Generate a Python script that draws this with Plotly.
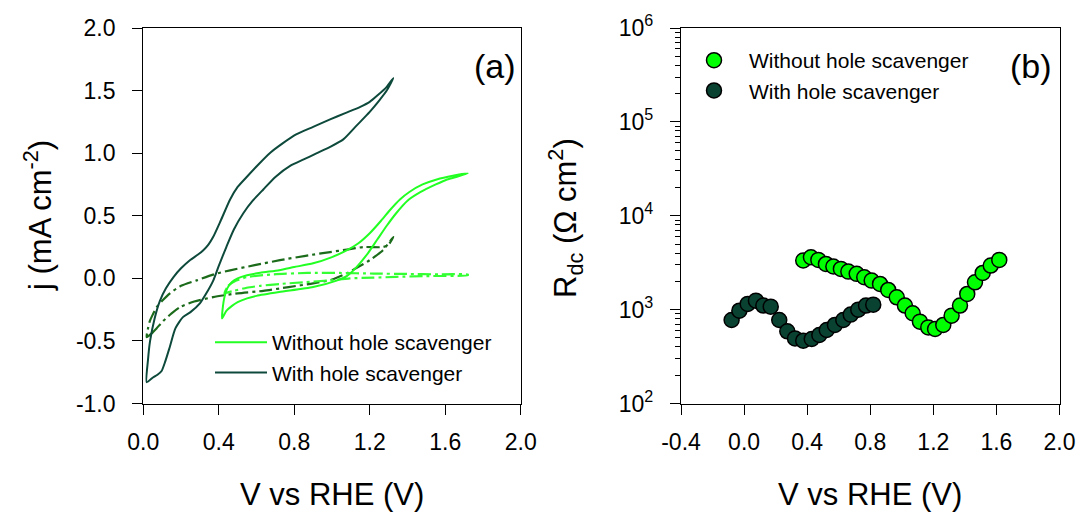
import plotly.graph_objects as go

# ---------- Panel (a): cyclic voltammetry ----------
# Without hole scavenger (light, solid)
v_wo = [0.417, 0.44, 0.47, 0.50, 0.55, 0.60, 0.72, 0.90, 1.02, 1.08, 1.13, 1.19, 1.24, 1.29, 1.34, 1.40, 1.47, 1.55, 1.61, 1.67, 1.72,
        1.64, 1.555, 1.48, 1.41, 1.36, 1.31, 1.26, 1.20, 1.14, 1.08, 1.00, 0.90, 0.80, 0.72, 0.62, 0.55, 0.50, 0.47, 0.445, 0.43, 0.42, 0.417]
j_wo = [-0.32, -0.26, -0.22, -0.19, -0.16, -0.14, -0.11, -0.07, -0.02, 0.02, 0.09, 0.20, 0.31, 0.42, 0.52, 0.62, 0.69, 0.75, 0.79, 0.815, 0.84,
        0.82, 0.79, 0.75, 0.69, 0.63, 0.55, 0.46, 0.36, 0.28, 0.225, 0.17, 0.12, 0.09, 0.065, 0.045, 0.025, 0.0, -0.03, -0.08, -0.15, -0.25, -0.32]

# With hole scavenger (dark, solid)
v_w = [0.018, 0.025, 0.036, 0.06, 0.088, 0.12, 0.16, 0.20, 0.247, 0.29, 0.318, 0.345, 0.37, 0.41, 0.46, 0.50, 0.548, 0.61, 0.67, 0.74,
       0.81, 0.90, 0.99, 1.07, 1.15, 1.20, 1.24, 1.29, 1.325,
       1.29, 1.25, 1.20, 1.13, 1.06, 0.99, 0.92, 0.85, 0.78, 0.70, 0.636, 0.58, 0.53, 0.48, 0.44, 0.40, 0.37, 0.33, 0.30, 0.25,
       0.21, 0.17, 0.14, 0.115, 0.097, 0.075, 0.053, 0.018]
j_w = [-0.83, -0.65, -0.50, -0.32, -0.18, -0.08, 0.01, 0.08, 0.145, 0.19, 0.225, 0.27, 0.33, 0.46, 0.63, 0.73, 0.81, 0.91, 1.00, 1.08,
       1.15, 1.21, 1.27, 1.32, 1.37, 1.41, 1.46, 1.53, 1.60,
       1.50, 1.42, 1.33, 1.22, 1.11, 1.05, 1.00, 0.95, 0.90, 0.81, 0.71, 0.62, 0.52, 0.39, 0.25, 0.10, -0.02, -0.13, -0.20, -0.27,
       -0.31, -0.40, -0.55, -0.67, -0.74, -0.77, -0.79, -0.83]

# Dark current, without hole scavenger (light, dash-dot)
v_wo_dark = [0.43, 0.45, 0.49, 0.55, 0.69, 0.87, 1.04, 1.22, 1.40, 1.57, 1.72,
             1.72, 1.50, 1.34, 1.22, 1.095, 0.99, 0.86, 0.724, 0.62, 0.548, 0.48, 0.44, 0.43]
j_wo_dark = [-0.12, -0.06, -0.02, 0.01, 0.032, 0.043, 0.043, 0.038, 0.035, 0.032, 0.03,
             0.025, 0.018, 0.012, 0.005, 0.0, -0.016, -0.03, -0.045, -0.06, -0.075, -0.10, -0.115, -0.12]

# Dark current, with hole scavenger (dark green, dash-dot)
v_w_dark = [0.018, 0.044, 0.07, 0.106, 0.15, 0.195, 0.27, 0.37, 0.50, 0.636, 0.77, 0.90, 1.0, 1.078, 1.15, 1.2, 1.27, 1.325,
            1.30, 1.27, 1.166, 1.08, 0.99, 0.86, 0.724, 0.59, 0.46, 0.37, 0.283, 0.2, 0.141, 0.10, 0.071, 0.05, 0.035, 0.025, 0.018]
j_w_dark = [-0.47, -0.44, -0.40, -0.34, -0.28, -0.23, -0.185, -0.15, -0.12, -0.10, -0.07, -0.04, -0.01, 0.04, 0.10, 0.145, 0.225, 0.33,
            0.27, 0.25, 0.25, 0.23, 0.21, 0.18, 0.145, 0.105, 0.064, 0.03, -0.016, -0.06, -0.12, -0.18, -0.23, -0.29, -0.34, -0.40, -0.47]

# ---------- Panel (b): Rdc ----------
v_rdc_wo = [0.375, 0.424, 0.471, 0.519, 0.566, 0.614, 0.661, 0.714, 0.762, 0.809, 0.862, 0.914, 0.968, 1.020, 1.069,
            1.115, 1.168, 1.211, 1.263, 1.316, 1.369, 1.415, 1.464, 1.513, 1.564, 1.618]
rdc_wo = [3334, 3614, 3388, 3069, 2877, 2716, 2541, 2404, 2213, 2037, 1879, 1622, 1352, 1104, 914,
          745, 647, 622, 687, 863, 1104, 1469, 1954, 2460, 2944, 3388]
v_rdc_w = [-0.079, -0.030, 0.023, 0.075, 0.122, 0.169, 0.223, 0.274, 0.323, 0.375, 0.429, 0.477, 0.524, 0.576,
           0.629, 0.676, 0.724, 0.773, 0.819]
rdc_w = [776, 975, 1151, 1247, 1104, 1076, 776, 587, 494, 467, 486, 537, 607, 687, 776, 885, 1000, 1104, 1130]

x_ticks_a = [0.0, 0.4, 0.8, 1.2, 1.6, 2.0]
x_ticktext_a = ["0.0", "0.4", "0.8", "1.2", "1.6", "2.0"]
y_ticks_a = [-1.0, -0.5, 0.0, 0.5, 1.0, 1.5, 2.0]
y_ticktext_a = ["-1.0", "-0.5", "0.0", "0.5", "1.0", "1.5", "2.0"]
x_ticks_b = [-0.4, 0.0, 0.4, 0.8, 1.2, 1.6, 2.0]
x_ticktext_b = ["-0.4", "0.0", "0.4", "0.8", "1.2", "1.6", "2.0"]
y_ticks_b = [1e2, 1e3, 1e4, 1e5, 1e6]
y_ticktext_b = ["10<sup>2</sup>", "10<sup>3</sup>", "10<sup>4</sup>", "10<sup>5</sup>", "10<sup>6</sup>"]
y_minor_b = [m * 10 ** e for e in range(2, 6) for m in range(2, 10)]

LIGHT = "#22FF22"
DARK = "#0E4A3C"
DD_DARK = "#1B6B1B"
DD_LIGHT = "#33FF33"
FONT = "Liberation Sans, Arial, sans-serif"

W, H = 1081, 516
fig = go.Figure()

DD = "13px,4px,3px,4px"
fig.add_trace(go.Scatter(x=v_w_dark, y=j_w_dark, mode="lines",
                         line=dict(color=DD_DARK, width=2.2, dash=DD, shape="spline", smoothing=0.6),
                         showlegend=False, xaxis="x", yaxis="y"))
fig.add_trace(go.Scatter(x=v_wo_dark, y=j_wo_dark, mode="lines",
                         line=dict(color=DD_LIGHT, width=2.2, dash=DD, shape="spline", smoothing=0.6),
                         showlegend=False, xaxis="x", yaxis="y"))
fig.add_trace(go.Scatter(x=v_wo, y=j_wo, mode="lines",
                         line=dict(color=LIGHT, width=2, shape="spline", smoothing=0.6),
                         name="Without hole scavenger", legend="legend", xaxis="x", yaxis="y"))
fig.add_trace(go.Scatter(x=v_w, y=j_w, mode="lines",
                         line=dict(color=DARK, width=2, shape="spline", smoothing=0.6),
                         name="With hole scavenger", legend="legend", xaxis="x", yaxis="y"))

fig.add_trace(go.Scatter(x=v_rdc_wo, y=rdc_wo, mode="markers", name="Without hole scavenger",
                         marker=dict(size=15, color="#00FF00", line=dict(color="black", width=1.5)),
                         legend="legend2", xaxis="x2", yaxis="y2"))
fig.add_trace(go.Scatter(x=v_rdc_w, y=rdc_w, mode="markers", name="With hole scavenger",
                         marker=dict(size=15, color="#0A4232", line=dict(color="black", width=1.5)),
                         legend="legend2", xaxis="x2", yaxis="y2"))

ydom = [1 - 403.5 / H, 1 - 28 / H]
axis_common = dict(showline=True, linecolor="black", linewidth=1.3, mirror=True, showgrid=False, zeroline=False,
                   ticks="outside", ticklen=10, tickwidth=1.3, tickcolor="black", automargin=False,
                   tickfont=dict(family=FONT, size=23, color="black"))

fig.update_layout(
    width=W, height=H, margin=dict(l=0, r=0, t=0, b=0, autoexpand=False),
    paper_bgcolor="white", plot_bgcolor="white",
    font=dict(family=FONT, color="black"),
    xaxis=dict(domain=[143.3 / W, 520.7 / W], range=[0, 2], tickvals=x_ticks_a, ticktext=x_ticktext_a,
               anchor="y", ticklabelstandoff=8, **axis_common),
    yaxis=dict(domain=ydom, range=[-1, 2], tickvals=y_ticks_a, ticktext=y_ticktext_a, anchor="x",
               ticklabelstandoff=12, **axis_common),
    xaxis2=dict(domain=[681 / W, 1059.5 / W], range=[-0.4, 2.0], tickvals=x_ticks_b, ticktext=x_ticktext_b,
                anchor="y2", ticklabelstandoff=8, **axis_common),
    yaxis2=dict(domain=ydom, type="log", range=[2, 6], tickvals=y_ticks_b, ticktext=y_ticktext_b, anchor="x2",
                ticklabelstandoff=12,
                minor=dict(ticks="outside", ticklen=5, tickwidth=1.1, tickcolor="black",
                           tickmode="array", tickvals=y_minor_b, showgrid=False),
                **axis_common),
    legend=dict(x=210 / W, xanchor="left", y=1 - 322 / H, yanchor="top", bgcolor="rgba(0,0,0,0)",
                font=dict(family=FONT, size=21, color="black"), itemwidth=52, tracegroupgap=0),
    legend2=dict(x=679 / W, xanchor="left", y=1 - 40 / H, yanchor="top", bgcolor="rgba(0,0,0,0)",
                 font=dict(family=FONT, size=21, color="black"), itemwidth=60, tracegroupgap=0),
)

annotations = [
    dict(text="V vs RHE (V)", x=332 / W, y=1 - 494 / H, xref="paper", yref="paper", showarrow=False,
         font=dict(family=FONT, size=31, color="black"), xanchor="center", yanchor="middle"),
    dict(text="V vs RHE (V)", x=870 / W, y=1 - 494 / H, xref="paper", yref="paper", showarrow=False,
         font=dict(family=FONT, size=31, color="black"), xanchor="center", yanchor="middle"),
    dict(text="j (mA cm<sup>-2</sup>)", x=38 / W, y=1 - 216 / H, xref="paper", yref="paper", showarrow=False,
         textangle=-90, font=dict(family=FONT, size=31, color="black"), xanchor="center", yanchor="middle"),
    dict(text="R<sub>dc</sub> (Ω cm<sup>2</sup>)", x=565 / W, y=1 - 218 / H, xref="paper", yref="paper", showarrow=False,
         textangle=-90, font=dict(family=FONT, size=31, color="black"), xanchor="center", yanchor="middle"),
    dict(text="(a)", x=518 / W, y=1 - 66 / H, xref="paper", yref="paper", showarrow=False,
         font=dict(family=FONT, size=34, color="black"), xanchor="right", yanchor="middle"),
    dict(text="(b)", x=1054 / W, y=1 - 66 / H, xref="paper", yref="paper", showarrow=False,
         font=dict(family=FONT, size=34, color="black"), xanchor="right", yanchor="middle"),
]
fig.update_layout(annotations=annotations)

fig.write_html("out.html")
